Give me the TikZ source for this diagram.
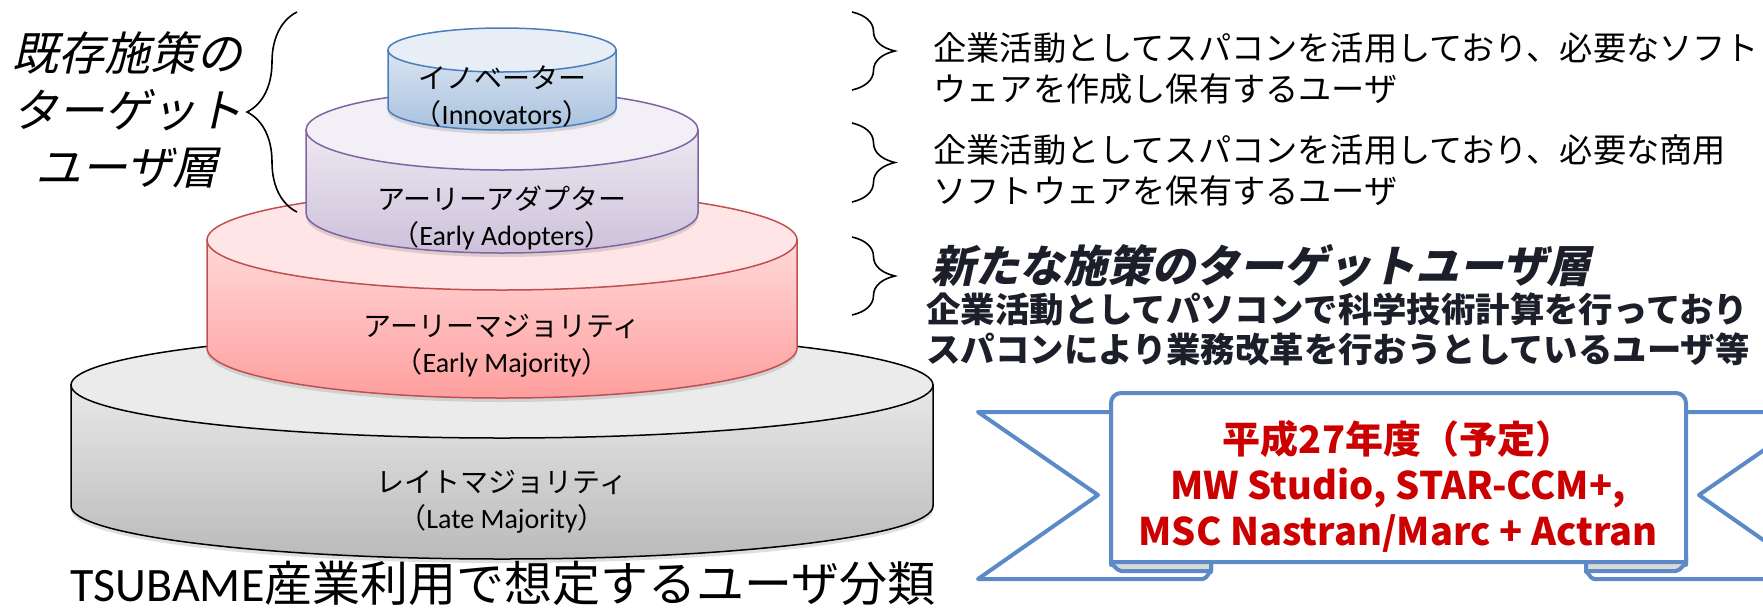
\documentclass[tikz,border=0pt]{standalone}
\usepackage{fontspec}
\setmainfont{Carlito}
\newfontfamily\jp{Noto Sans CJK JP}
\newfontfamily\jpit{Noto Sans CJK JP}[FakeSlant=0.22]
\usetikzlibrary{decorations.pathreplacing,shadows}

\definecolor{innovline}{HTML}{4A7EBB}
\definecolor{adoptline}{HTML}{8064A2}
\definecolor{earlyline}{HTML}{C0504D}
\definecolor{ribbonblue}{HTML}{5B8AC6}
\definecolor{planred}{HTML}{CC0000}
\definecolor{textdark}{HTML}{1C1F2A}

\newcommand{\enname}[1]{{\jp （}{\rmfamily #1}{\jp ）}}

\begin{document}
\begin{tikzpicture}[x=0.5pt,y=-0.5pt,
  tierbody/.style n args={3}{draw=#1,line width=0.75pt,top color=#2,bottom color=#3,
    drop shadow={opacity=0.25,shadow xshift=0pt,shadow yshift=-2pt}},
  tierlid/.style n args={2}{draw=#1,line width=0.75pt,fill=#2},
  tiertext/.style={font=\jp\fontsize{14}{18}\selectfont,align=center,inner sep=0pt},
  desc/.style={font=\jp\fontsize{16.6}{20.5}\selectfont,align=left,inner sep=0pt,anchor=west},
  brc/.style={decorate,decoration={brace,amplitude=#1},line width=0.8pt},
  ribbon/.style={draw=ribbonblue,line width=2pt,fill=white,line join=round},
  fold/.style={draw=ribbonblue,line width=2pt,fill=black!15,line join=round}]
\useasboundingbox (0,0) rectangle (1763,612);

% LATE MAJORITY
 \draw[tierbody={black}{black!9}{black!27}] (71,385) -- (71,506)
   arc[start angle=180,end angle=0,x radius=431,y radius=53] -- (933,385) -- cycle;
 \draw[tierlid={black}{black!8}] (502,385) ellipse [x radius=431,y radius=53];

% EARLY MAJORITY
 \draw[tierbody={earlyline}{red!15}{red!38}] (207,240) -- (207,348)
   arc[start angle=180,end angle=0,x radius=295,y radius=50] -- (797,240) -- cycle;
 \draw[tierlid={earlyline}{red!10}] (502,240) ellipse [x radius=295,y radius=50];

% EARLY ADOPTERS
 \draw[tierbody={adoptline}{adoptline!14}{adoptline!40}] (306,130) -- (306,213)
   arc[start angle=180,end angle=0,x radius=196,y radius=40] -- (698,130) -- cycle;
 \draw[tierlid={adoptline}{adoptline!10}] (502,130) ellipse [x radius=196,y radius=40];

% INNOVATORS
 \draw[tierbody={innovline}{innovline!20}{innovline!48}] (388,50) -- (388,108)
   arc[start angle=180,end angle=0,x radius=114,y radius=22] -- (616,50) -- cycle;
 \draw[tierlid={innovline}{innovline!13}] (502,50) ellipse [x radius=114,y radius=22];

 \node[tiertext] (innov) at (502,96) {イノベーター\\\enname{Innovators}};
 \node[tiertext] (adopt) at (502,218) {アーリーアダプター\\\enname{Early Adopters}};
 \node[tiertext] (early) at (502,346) {アーリーマジョリティ\\\enname{Early Majority}};
 \node[tiertext] (late) at (502,502) {レイトマジョリティ\\\enname{Late Majority}};

% BRACES
 \coordinate (ob-top) at (297,12);
 \coordinate (ob-bot) at (297,212);
 \draw[brc=25pt] (ob-bot) -- (ob-top);

 \coordinate (nb1-top) at (852,12);
 \coordinate (nb1-bot) at (852,90);
 \coordinate (nb2-top) at (852,123);
 \coordinate (nb2-bot) at (852,202);
 \coordinate (nb3-top) at (852,237);
 \coordinate (nb3-bot) at (852,315);
 \draw[brc=21.5pt] (nb1-top) -- (nb1-bot);
 \draw[brc=21.5pt] (nb2-top) -- (nb2-bot);
 \draw[brc=21.5pt] (nb3-top) -- (nb3-bot);

% NOTES
 \node[font=\jpit\fontsize{23}{28.5}\selectfont,align=center] (oldtarget) at (127,110)
   {既存施策の\\ターゲット\\ユーザ層};
 \node[desc] (desc1) at (933,68) {企業活動としてスパコンを活用しており、必要なソフト\\ウェアを作成し保有するユーザ};
 \node[desc] (desc2) at (933,170) {企業活動としてスパコンを活用しており、必要な商用\\ソフトウェアを保有するユーザ};
 \node[desc,font=\jpit\bfseries\fontsize{22}{26}\selectfont,text=textdark] (newtarget) at (931,266)
   {新たな施策のターゲットユーザ層};
 \node[desc,font=\jp\bfseries\fontsize{17.2}{20}\selectfont,text=textdark] (newdesc) at (926,329)
   {企業活動としてパソコンで科学技術計算を行っており\\スパコンにより業務改革を行おうとしているユーザ等};

% RIBBON
 \filldraw[ribbon] (1111,412) -- (978,412) -- (1098,495) -- (978,579) -- (1203,579)
   to[out=0,in=90] (1211,572) -- (1211,558);
 \filldraw[ribbon] (1686,412) -- (1819,412) -- (1699,495) -- (1819,579) -- (1594,579)
   to[out=180,in=90] (1586,572) -- (1586,558);
 \filldraw[fold] (1111,555) -- (1111,565) to[out=90,in=180] (1121,571) -- (1211,571) -- (1211,555);
 \filldraw[fold] (1686,555) -- (1686,565) to[out=90,in=0] (1676,571) -- (1586,571) -- (1586,555);
 \filldraw[ribbon] (1111,562) [rounded corners=5pt] -- (1111,393) -- (1686,393) [sharp corners] -- (1686,562) -- cycle;

 \node[font=\jp\bfseries\fontsize{19}{23}\selectfont,text=planred,align=center] (plan) at (1398,486)
   {平成27年度（予定）\\MW Studio, STAR-CCM+,\\MSC Nastran/Marc + Actran};

 \node[font=\fontsize{24}{28}\selectfont] (caption) at (503,583)
   {TSUBAME{\jp 産業利用で想定するユーザ分類}};

\end{tikzpicture}
\end{document}
